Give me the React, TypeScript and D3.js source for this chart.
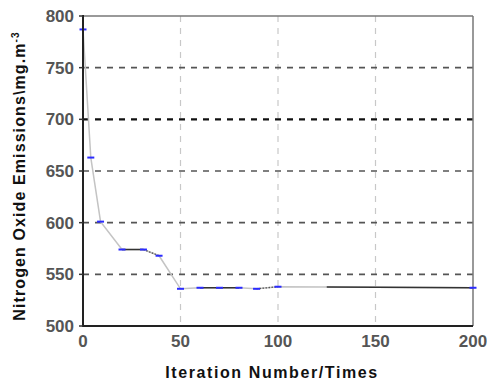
import React from 'react';
import * as d3 from 'd3';

const iterations = [0, 4, 9, 20, 31, 39, 50, 60, 70, 80, 89, 100, 200];
const emissions = [787, 663, 601, 574, 574, 568, 536, 537, 537, 537, 536, 538, 537];
// stretches drawn darker than the pale main line
const darkSegments = [[20, 31], [60, 80], [125, 200]];
const dottedSegments = [[31, 39], [89, 100]];
const xTicks = [0, 50, 100, 150, 200];
const yTicks = [500, 550, 600, 650, 700, 750, 800];

const W = 487;
const H = 383;
const margin = { top: 16, right: 14, bottom: 57, left: 83 };

export default function App() {
  const x = d3.scaleLinear().domain([0, 200]).range([margin.left, W - margin.right]);
  const y = d3.scaleLinear().domain([500, 800]).range([H - margin.bottom, margin.top]);
  const pts = iterations.map((it, i) => [it, emissions[i]] as [number, number]);
  const line = d3.line<[number, number]>().x(d => x(d[0])).y(d => y(d[1]));
  const valueAt = (t: number) => {
    const i = d3.bisectRight(iterations, t) - 1;
    const j = Math.min(i + 1, iterations.length - 1);
    if (i === j) return emissions[i];
    const f = (t - iterations[i]) / (iterations[j] - iterations[i]);
    return emissions[i] + f * (emissions[j] - emissions[i]);
  };
  const x0 = x(0), x1 = x(200), yTop = y(800), yBot = y(500);

  return (
    <svg width={W} height={H} style={{ position: 'absolute', left: 0, top: 0 }} fontFamily="Liberation Sans, Arial, sans-serif">
      <rect width={W} height={H} fill="#fff" />
      {xTicks.filter(t => t > 0 && t < 200).map(t => (
        <line key={'vx' + t} x1={x(t)} x2={x(t)} y1={yTop} y2={yBot} stroke="#c8c8c8" strokeWidth={1.2} strokeDasharray="6,6" />
      ))}
      {yTicks.filter(t => t > 500 && t < 800).map(t => (
        <line key={'hy' + t} x1={x0} x2={x1} y1={y(t)} y2={y(t)}
          stroke={t === 700 ? '#111' : '#555'} strokeWidth={t === 700 ? 2.2 : 1.6} strokeDasharray="6,6" />
      ))}
      <line x1={x0} x2={x1} y1={yTop} y2={yTop} stroke="#777" strokeWidth={1.5} />
      <line x1={x1} x2={x1} y1={yTop} y2={yBot} stroke="#777" strokeWidth={1.5} />
      <path d={line(pts) || ''} fill="none" stroke="#c4c4c4" strokeWidth={1.5} />
      {darkSegments.map(([a, b], i) => (
        <line key={'ds' + i} x1={x(a)} x2={x(b)} y1={y(valueAt(a))} y2={y(valueAt(b))} stroke="#333" strokeWidth={1.5} />
      ))}
      {dottedSegments.map(([a, b], i) => (
        <line key={'dt' + i} x1={x(a)} x2={x(b)} y1={y(valueAt(a))} y2={y(valueAt(b))} stroke="#555" strokeWidth={1.3} strokeDasharray="1.5,1.5" />
      ))}
      {pts.map((d, i) => (
        <line key={'m' + i} x1={x(d[0]) - 3.5} x2={x(d[0]) + 3.5} y1={y(d[1])} y2={y(d[1])} stroke="#2b2bff" strokeWidth={2} />
      ))}
      <line x1={x0} x2={x0} y1={yTop - 1} y2={yBot + 1} stroke="#222" strokeWidth={2} />
      <line x1={x0 - 1} x2={x1} y1={yBot} y2={yBot} stroke="#222" strokeWidth={2} />
      {yTicks.map(t => (
        <g key={'yt' + t}>
          <line x1={x0 - 4} x2={x0} y1={y(t)} y2={y(t)} stroke="#333" strokeWidth={1.5} />
          <text x={x0 - 9} y={y(t)} dy="0.36em" textAnchor="end" fontSize={17} fontWeight="bold" fill="#555">{t}</text>
        </g>
      ))}
      {xTicks.map(t => (
        <text key={'xt' + t} x={x(t)} y={yBot + 21} textAnchor="middle" fontSize={17} fontWeight="bold" fill="#555">{t}</text>
      ))}
      <text x={272} y={378} textAnchor="middle" fontSize={16} fontWeight="bold" letterSpacing={1.6} fill="#111">Iteration Number/Times</text>
      <text transform={`translate(25,${(yTop + yBot) / 2 + 5}) rotate(-90)`} textAnchor="middle" fontSize={16} fontWeight="bold" letterSpacing={1.1} fill="#111">
        Nitrogen Oxide Emissions\mg.m<tspan fontSize={10} dy={-6}>-3</tspan>
      </text>
    </svg>
  );
}
